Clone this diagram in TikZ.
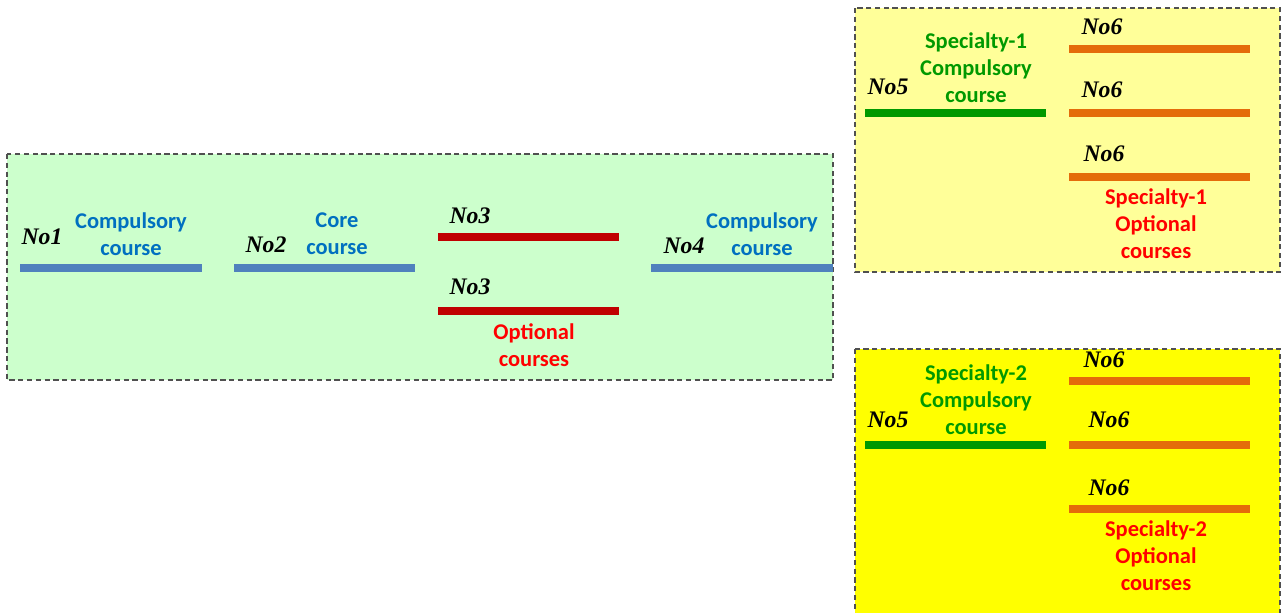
\documentclass[tikz,border=0pt]{standalone}
\usepackage{fontspec}
\setmainfont{Liberation Serif}
\newfontfamily\calibri{Carlito}
\usetikzlibrary{positioning}
\definecolor{greenbg}{HTML}{CCFFCC}
\definecolor{paleyellow}{HTML}{FFFF99}
\definecolor{brightyellow}{HTML}{FFFF00}
\definecolor{blueline}{HTML}{4F81BD}
\definecolor{bluetext}{HTML}{0070C0}
\definecolor{darkred}{HTML}{C00000}
\definecolor{redtext}{HTML}{FF0000}
\definecolor{greenline}{HTML}{009900}
\definecolor{orangeline}{HTML}{E46C0A}
\definecolor{bordergray}{HTML}{505050}

\begin{document}
\begin{tikzpicture}[x=0.02cm, y=-0.02cm,
    num/.style={font=\fontsize{13.5}{16}\selectfont\bfseries\itshape, inner sep=0pt},
    txt/.style={font=\calibri\fontsize{12.8}{15.4}\selectfont\bfseries, align=center, inner sep=0pt},
    course/.style={line width=4.2pt},
    panel/.style={draw=bordergray, densely dashed, line width=0.6pt}]
        \useasboundingbox (0,0) rectangle (1281,612);

        % panels
        \draw[panel, fill=greenbg] (7,154) rectangle (833,380);
        \draw[panel, fill=paleyellow] (855,8) rectangle (1280,272);
        \draw[panel, fill=brightyellow] (855,349) rectangle (1280,616);

        % common courses
        \draw[course, blueline] (20,268) -- (202,268);
        \draw[course, blueline] (234,268) -- (415,268);
        \draw[course, darkred] (438,237) -- (619,237);
        \draw[course, darkred] (438,311) -- (619,311);
        \draw[course, blueline] (651,268) -- (833,268);

        \node[num] (n1) at (42,237) {No1};
        \node[txt, bluetext] (c1) at (131,234) {Compulsory\\course};
        \node[num] (n2) at (266,245) {No2};
        \node[txt, bluetext] (c2) at (337,234) {Core\\course};
        \node[num] (n3a) at (470,216) {No3};
        \node[num] (n3b) at (470,287) {No3};
        \node[txt, redtext] (c3) at (534,345) {Optional\\courses};
        \node[num] (n4) at (684,246) {No4};
        \node[txt, bluetext] (c4) at (762,234) {Compulsory\\course};

        % specialty 1
        \draw[course, greenline] (865,113) -- (1046,113);
        \draw[course, orangeline] (1069,49) -- (1250,49);
        \draw[course, orangeline] (1069,113) -- (1250,113);
        \draw[course, orangeline] (1069,177) -- (1250,177);

        \node[num] (s1n5) at (888,87) {No5};
        \node[txt, greenline] (s1c) at (976,68) {Specialty-1\\Compulsory\\course};
        \node[num] (s1a) at (1102,27) {No6};
        \node[num] (s1b) at (1102,90) {No6};
        \node[num] (s1c6) at (1104,154) {No6};
        \node[txt, redtext] (s1o) at (1156,224) {Specialty-1\\Optional\\courses};

        % specialty 2
        \draw[course, greenline] (865,445) -- (1046,445);
        \draw[course, orangeline] (1069,381) -- (1250,381);
        \draw[course, orangeline] (1069,445) -- (1250,445);
        \draw[course, orangeline] (1069,509) -- (1250,509);

        \node[num] (s2n5) at (888,420) {No5};
        \node[txt, greenline] (s2c) at (976,400) {Specialty-2\\Compulsory\\course};
        \node[num] (s2a) at (1104,360) {No6};
        \node[num] (s2b) at (1109,420) {No6};
        \node[num] (s2c6) at (1109,488) {No6};
        \node[txt, redtext] (s2o) at (1156,556) {Specialty-2\\Optional\\courses};
    \end{tikzpicture}
\end{document}
